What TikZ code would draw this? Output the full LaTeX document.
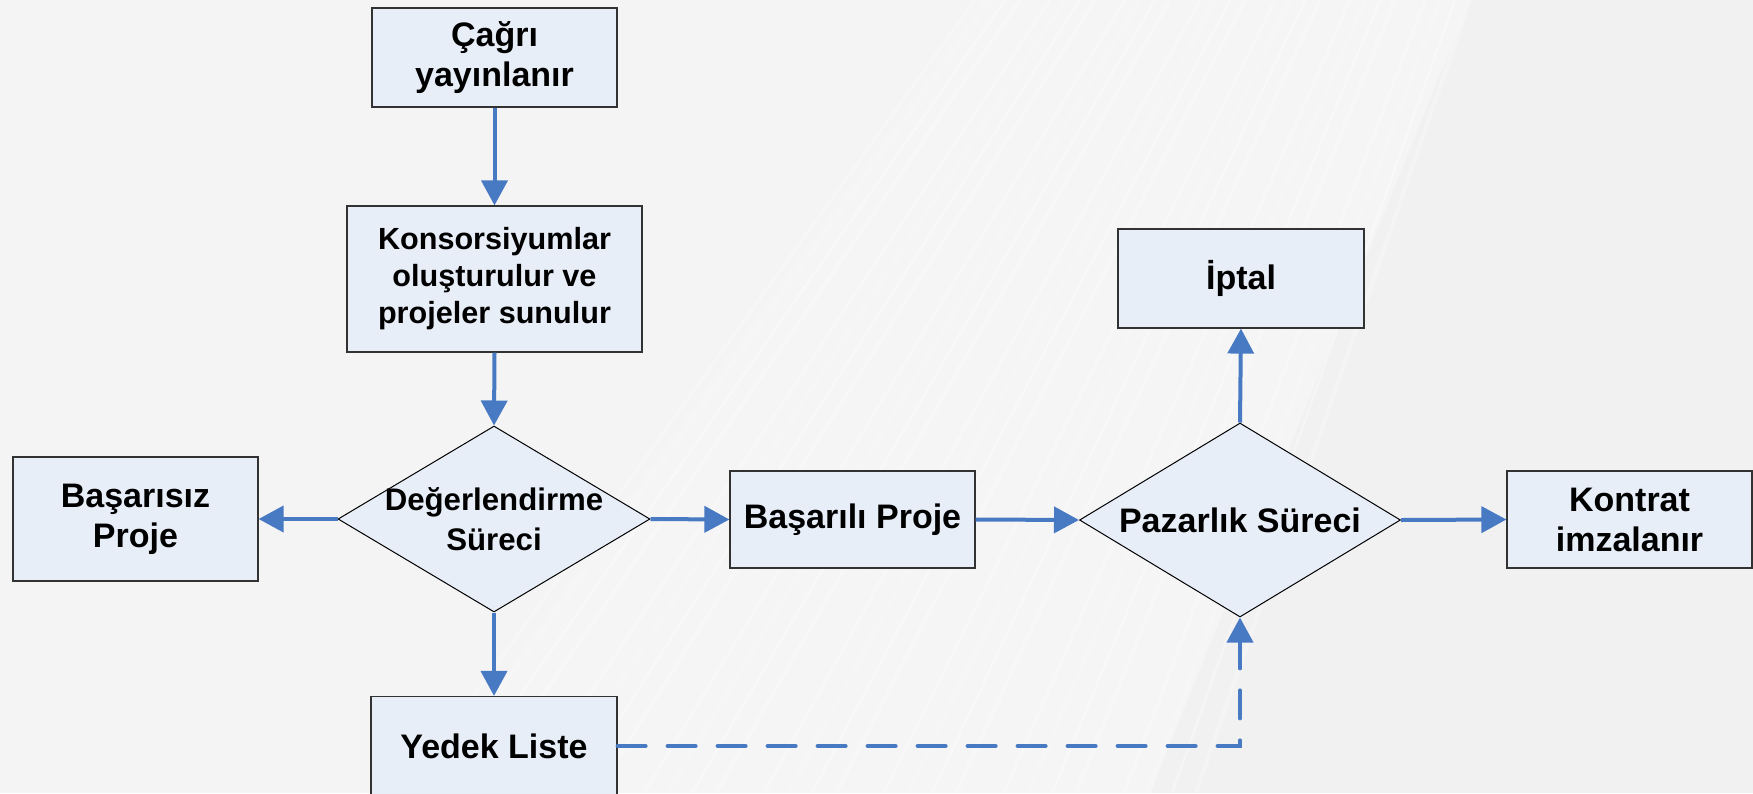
\documentclass[tikz,border=0pt]{standalone}
\usepackage{fontspec}
\setmainfont{Liberation Sans}
\usetikzlibrary{arrows.meta,shapes.geometric}
\definecolor{bg}{RGB}{241,241,241}
\definecolor{boxfill}{RGB}{232,238,248}
\definecolor{boxline}{RGB}{50,50,50}
\definecolor{arr}{RGB}{72,122,196}
\begin{document}
\begin{tikzpicture}[x=1pt,y=-1pt,
  box/.style={draw=boxline,line width=1.2pt,fill=boxfill,inner sep=0pt,align=center,font=\bfseries\fontsize{34}{40}\selectfont},
  dia/.style={diamond,draw=black,line width=1pt,fill=boxfill,inner sep=0pt},
  lbl/.style={inner sep=0pt,align=center,font=\bfseries\fontsize{34}{40}\selectfont},
  conn/.style={draw=arr,line width=4pt,-{Triangle[length=25pt,width=26pt]}},
  dconn/.style={conn,line cap=round,dash pattern=on 28pt off 22pt},
]
\useasboundingbox (0,0) rectangle (1753,793);
\clip (0,0) rectangle (1753,793);
% background
\fill[bg] (0,0) rectangle (1753,793);
\fill[white,opacity=0.35] (420,793) -- (1150,793) -- (1470,0) -- (980,0) -- cycle;
\fill[white,opacity=0.25] (0,0) -- (980,0) -- (420,793) -- (0,793) -- cycle;
\foreach \i in {0,...,34} {
  \pgfmathsetmacro\bx{380+24*\i}
  \pgfmathsetmacro\tx{960+15*\i}
  \pgfmathsetmacro\w{1.5+mod(\i*7,5)}
  \pgfmathsetmacro\o{0.12+0.05*mod(\i*3,5)}
  \draw[white,line width=\w pt,opacity=\o] (\bx,793) -- (\tx,0);
}

% nodes
\node[box,minimum width=245pt,minimum height=99pt] (cagri) at (494.5,57.5) {Çağrı\\yayınlanır};
\node[box,minimum width=295pt,minimum height=146pt,font=\bfseries\fontsize{30.6}{37}\selectfont] (kons) at (494.5,279) {Konsorsiyumlar\\oluşturulur ve\\projeler sunulur};
\node[dia,minimum width=312pt,minimum height=186pt] (deg) at (494,519) {};
\node[lbl,font=\bfseries\fontsize{31.2}{40}\selectfont] (degt) at (494,519) {Değerlendirme\\Süreci};
\node[box,minimum width=245pt,minimum height=124pt] (basarisiz) at (135.5,519) {Başarısız\\Proje};
\node[box,minimum width=245pt,minimum height=97pt] (basarili) at (852.5,519.5) {Başarılı Proje};
\node[dia,minimum width=321pt,minimum height=194pt] (paz) at (1240,520) {};
\node[lbl] (pazt) at (1240,520) {Pazarlık Süreci};
\node[box,minimum width=246pt,minimum height=99pt] (iptal) at (1241,278.5) {İptal};
\node[box,minimum width=245pt,minimum height=97pt] (kontrat) at (1629.5,519.5) {Kontrat\\imzalanır};
\node[box,minimum width=246pt,minimum height=99pt] (yedek) at (494,746) {Yedek Liste};

% connectors
\draw[conn] (cagri.south) -- (kons.north);
\draw[conn] (kons.south) -- (deg.north);
\draw[conn] (deg.west) -- (basarisiz.east);
\draw[conn] (deg.east) -- (basarili.west);
\draw[conn] (deg.south) -- (yedek.north);
\draw[conn] (basarili.east) -- (paz.west);
\draw[conn] (paz.east) -- (kontrat.west);
\draw[conn] (paz.north) -- (iptal.south);
\draw[dconn] (yedek.east) -| (paz.south);
\end{tikzpicture}
\end{document}
